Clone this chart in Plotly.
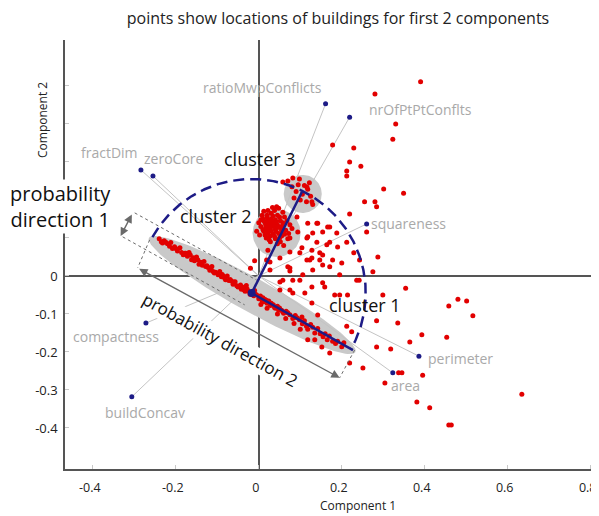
import numpy as np
import plotly.graph_objects as go

# ---------------- axes ----------------
X_RANGE = [-0.467, 0.820]
Y_RANGE = [-0.508, 0.621]
X_TICKS = [-0.4, -0.2, 0, 0.2, 0.4, 0.6, 0.8]
X_TICKTEXT = ["-0.4", "-0.2", "0", "0.2", "0.4", "0.6", "0.8"]
Y_TICKS = [-0.4, -0.3, -0.2, -0.1, 0, 0.1, 0.2, 0.3, 0.4, 0.5]
Y_TICKTEXT = ["-0.4", "-0.3", "-0.2", "-0.1", "0", "", "", "", "", ""]

# ---------------- building scores (component 1, component 2) ----------------
band_x = [-0.240, -0.235, -0.228, -0.220, -0.215, -0.212, -0.200, -0.196, -0.190, -0.186,
          -0.178, -0.172, -0.168, -0.165, -0.158, -0.155, -0.150, -0.147, -0.140, -0.136,
          -0.132, -0.128, -0.122, -0.118, -0.113, -0.110, -0.104, -0.098, -0.094, -0.090,
          -0.085, -0.080, -0.076, -0.072, -0.066, -0.062, -0.057, -0.053, -0.046, -0.042,
          -0.037, -0.033, -0.030, -0.025, -0.021, -0.016, -0.012, -0.010, -0.005, 0.000,
          0.004, 0.008, 0.010, 0.015, 0.020, 0.024, 0.028, 0.035, 0.040, 0.045,
          0.048, 0.055, 0.060, 0.066, 0.075, 0.082, 0.088, 0.098, 0.105, 0.110,
          0.118, 0.125, 0.135, 0.142, 0.155, 0.165, 0.170, 0.178, 0.185, 0.200, 0.205,
          -0.232, -0.224, -0.208, -0.203, -0.182, -0.176, -0.162, -0.152, -0.144, -0.125,
          -0.116, -0.107, -0.088, -0.082, -0.069, -0.060, -0.050, -0.044, -0.035, -0.028,
          -0.018, -0.008, 0.002, 0.012, 0.018, 0.030, 0.038, 0.050, 0.058, 0.070,
          0.092, 0.115, 0.130, 0.148, 0.160, 0.190, 0.020, 0.045, 0.065, 0.085,
          0.005, 0.100]
band_y = [0.098, 0.090, 0.093, 0.085, 0.078, 0.088, 0.072, 0.066, 0.074, 0.062,
          0.060, 0.052, 0.062, 0.055, 0.048, 0.040, 0.050, 0.043, 0.036, 0.028,
          0.038, 0.025, 0.022, 0.015, 0.025, 0.012, 0.010, 0.003, 0.012, -0.002,
          -0.001, -0.010, 0.000, -0.012, -0.013, -0.022, -0.015, -0.026, -0.027, -0.035,
          -0.030, -0.040, -0.025, -0.040, -0.048, -0.042, -0.052, -0.038, -0.050, -0.060,
          -0.053, -0.065, -0.057, -0.062, -0.072, -0.066, -0.078, -0.076, -0.085, -0.080,
          -0.090, -0.090, -0.098, -0.093, -0.102, -0.112, -0.104, -0.115, -0.126, -0.118,
          -0.140, -0.128, -0.150, -0.138, -0.160, -0.168, -0.158, -0.172, -0.178, -0.186, -0.176,
          0.087, 0.089, 0.072, 0.077, 0.056, 0.060, 0.043, 0.045, 0.031, 0.027,
          0.020, 0.008, 0.004, -0.006, -0.009, -0.016, -0.029, -0.024, -0.037, -0.034,
          -0.046, -0.048, -0.055, -0.068, -0.064, -0.072, -0.083, -0.084, -0.095, -0.097,
          -0.110, -0.132, -0.135, -0.152, -0.152, -0.172, -0.085, -0.100, -0.112, -0.125,
          -0.075, -0.140]

blob_x = [0.010, 0.020, 0.030, 0.040, 0.015, 0.025, 0.035, 0.045, 0.005, 0.018,
          0.028, 0.040, 0.050, 0.012, 0.022, 0.035, 0.048, 0.000, 0.058, 0.030,
          0.045, 0.008, 0.018, 0.040, 0.055, 0.065, 0.062, -0.005, 0.028, 0.052,
          0.070, 0.075, 0.038, 0.022, -0.010, -0.020,
          0.012, 0.022, 0.032, 0.042, 0.052, 0.017, 0.027, 0.037, 0.047, 0.057,
          0.010, 0.020, 0.030, 0.042, 0.055, 0.015, 0.027, 0.038, 0.050, 0.062,
          0.020, 0.034, 0.050, 0.005, 0.068, 0.025, 0.045, 0.060, 0.033, 0.012,
          0.002, 0.072, 0.080, 0.058, 0.048]
blob_y = [0.150, 0.155, 0.150, 0.148, 0.140, 0.138, 0.140, 0.135, 0.130, 0.128,
          0.125, 0.122, 0.128, 0.118, 0.112, 0.110, 0.112, 0.140, 0.140, 0.165,
          0.160, 0.160, 0.100, 0.098, 0.105, 0.120, 0.155, 0.118, 0.090, 0.090,
          0.098, 0.135, 0.172, 0.172, 0.040, 0.020,
          0.145, 0.148, 0.143, 0.142, 0.145, 0.133, 0.132, 0.130, 0.128, 0.132,
          0.122, 0.120, 0.118, 0.117, 0.120, 0.108, 0.105, 0.104, 0.100, 0.110,
          0.160, 0.158, 0.155, 0.148, 0.145, 0.095, 0.085, 0.080, 0.180, 0.170,
          0.108, 0.112, 0.125, 0.168, 0.178]

top_x = [0.080, 0.095, 0.110, 0.118, 0.090, 0.105, 0.125, 0.100, 0.085, 0.115,
         0.130, 0.070, 0.098, 0.122, 0.058, 0.043]
top_y = [0.235, 0.240, 0.238, 0.228, 0.222, 0.215, 0.210, 0.200, 0.205, 0.195,
         0.188, 0.250, 0.255, 0.245, 0.247, 0.182]

spread_x = [0.118, 0.142, 0.171, 0.154, 0.130, 0.116, 0.140, 0.164, 0.190, 0.104,
            0.128, 0.075, 0.051, 0.116, 0.147, 0.171, 0.070, 0.130, 0.106, 0.082,
            0.058, 0.159, 0.128, 0.111, 0.195, 0.082, 0.051, 0.027, 0.019, 0.022,
            0.075, 0.094, 0.390, 0.280, 0.330, 0.323, 0.178, 0.229, 0.219, 0.246,
            0.212, 0.212, 0.301, 0.349, 0.255, 0.280, 0.284, 0.219, 0.212, 0.260,
            0.287, 0.275, 0.229, 0.200, 0.082, 0.116, 0.128, 0.092, 0.140, 0.166,
            0.188, 0.118, 0.171, 0.099, 0.147, 0.123, 0.154, 0.075, 0.243, 0.178]
spread_y = [0.139, 0.139, 0.129, 0.116, 0.113, 0.100, 0.089, 0.082, 0.076, 0.074,
            0.068, 0.063, 0.047, 0.042, 0.042, 0.024, 0.024, 0.016, 0.003, -0.011,
            -0.011, -0.029, -0.029, -0.045, -0.050, -0.045, -0.037, 0.016, 0.042, 0.068,
            0.100, 0.116, 0.511, 0.479, 0.400, 0.360, 0.345, 0.337, 0.300, 0.289,
            0.276, 0.263, 0.229, 0.218, 0.195, 0.195, 0.182, 0.163, 0.089, 0.116,
            0.050, 0.011, 0.061, 0.034, 0.258, 0.234, 0.195, 0.155, 0.139, 0.129,
            0.113, 0.103, 0.089, 0.061, 0.061, 0.042, 0.029, 0.021, 0.042, 0.042]

lower_x = [0.354, 0.299, 0.284, 0.335, 0.458, 0.480, 0.501, 0.516, 0.393, 0.364,
           0.453, 0.284, 0.318, 0.395, 0.337, 0.345, 0.304, 0.381, 0.412, 0.458,
           0.464, 0.634, 0.251, 0.219, 0.214, 0.183, 0.212, 0.224, 0.236, 0.242,
           0.027, 0.075, 0.128, 0.154, 0.099, 0.051, 0.154, 0.195, 0.075, 0.128,
           0.142, 0.104, 0.118, 0.135, 0.171, 0.152]
lower_y = [-0.032, -0.050, -0.118, -0.124, -0.079, -0.061, -0.066, -0.105, -0.155, -0.174,
           -0.161, -0.187, -0.192, -0.261, -0.255, -0.255, -0.282, -0.332, -0.347, -0.392,
           -0.392, -0.311, -0.242, -0.229, -0.050, -0.050, -0.132, -0.147, -0.011, -0.011,
           0.037, 0.013, 0.047, 0.055, -0.011, -0.016, -0.018, 0.003, -0.037, -0.071,
           -0.103, -0.108, -0.168, -0.168, -0.203, -0.187]

# ---------------- variable loadings ----------------
var_names = ["ratioMwpConflicts", "nrOfPtPtConflts", "squareness", "fractDim", "zeroCore",
             "compactness", "buildConcav", "perimeter", "area"]
var_x = [0.161, 0.219, 0.260, -0.284, -0.255, -0.272, -0.306, 0.386, 0.323]
var_y = [0.453, 0.418, 0.137, 0.279, 0.263, -0.124, -0.318, -0.211, -0.255]
label_x = [0.010, 0.390, 0.361, -0.359, -0.205, -0.345, -0.275, 0.485, 0.354]
label_y = [0.495, 0.437, 0.137, 0.324, 0.310, -0.158, -0.358, -0.216, -0.289]

# ---------------- cluster structure ----------------
center = (-0.017, -0.045)          # common centre of the probability directions
dir1_end = (0.104, 0.221)          # end of probability direction 1 (cluster 3)
dir2_end = (0.227, -0.195)         # end of probability direction 2 (cluster 1)
clusters = {                       # centre x, centre y, semi-axes (px), angle (deg)
    "c1": (-0.016, -0.050, 118, 17, -29),
    "c2": (0.043, 0.113, 24, 24, 0),
    "c3": (0.106, 0.216, 19, 19, 0),
}
arc_radius_px = 114
arc_angles = (150.6, -29.4)

cluster_text = ["cluster 3", "cluster 2", "cluster 1"]
cluster_text_x = [0.002, -0.104, 0.255]
cluster_text_y = [0.308, 0.158, -0.076]

# ---------------- figure geometry ----------------
OFF = 8                              # page body margin of the browser
W, H = 599 - OFF, 516 - OFF
PL, PT, PW, PH = 65, 40, 534, 429    # plot box in page pixels
ML, MT = PL - OFF, PT - OFF
MR, MB = W - ML - PW, H - MT - PH
sx = PW / (X_RANGE[1] - X_RANGE[0])
sy = PH / (Y_RANGE[1] - Y_RANGE[0])

NAVY = "#1d1b86"
RED = "#e20000"
GREY_FILL = "#c9c9c9"
FONT = "Open Sans, Noto Sans, sans-serif"


def ellipse(cx, cy, a, b, ang):
    t = np.linspace(0, 2 * np.pi, 120)
    r = np.deg2rad(ang)
    px = a * np.cos(t) * np.cos(r) - b * np.sin(t) * np.sin(r)
    py = a * np.cos(t) * np.sin(r) + b * np.sin(t) * np.cos(r)
    return cx + px / sx, cy + py / sy


def paper_x(px):
    return (px - PL) / PW


def paper_y(py):
    return (PT + PH - py) / PH


fig = go.Figure()

for key, (cx, cy, a, b, ang) in clusters.items():
    ex, ey = ellipse(cx, cy, a, b, ang)
    fig.add_trace(go.Scatter(x=ex, y=ey, mode="lines", fill="toself",
                             fillcolor=GREY_FILL, line=dict(width=0),
                             hoverinfo="skip", showlegend=False))

# variable loading lines
for vx, vy in zip(var_x, var_y):
    fig.add_trace(go.Scatter(x=[0, vx], y=[0, vy], mode="lines",
                             line=dict(color="#c4c4c4", width=1),
                             hoverinfo="skip", showlegend=False))

# building points
all_x = band_x + blob_x + top_x + spread_x + lower_x
all_y = band_y + blob_y + top_y + spread_y + lower_y
fig.add_trace(go.Scatter(x=all_x, y=all_y, mode="markers",
                         marker=dict(color=RED, size=5, line=dict(width=0)),
                         showlegend=False))

# dashed construction lines (grey)
dashed = [
    ((-0.263, 0.095), (-0.292, 0.021)),
    ((0.231, -0.195), (0.195, -0.268)),
    ((-0.299, 0.166), (-0.005, -0.011)),
    ((-0.328, 0.103), (-0.034, -0.076)),
]
for (x0, y0), (x1, y1) in dashed:
    fig.add_trace(go.Scatter(x=[x0, x1], y=[y0, y1], mode="lines",
                             line=dict(color="#6a6a6a", width=1, dash="dot"),
                             hoverinfo="skip", showlegend=False))

# probability directions
fig.add_trace(go.Scatter(x=[dir1_end[0], center[0], dir2_end[0]],
                         y=[dir1_end[1], center[1], dir2_end[1]], mode="lines",
                         line=dict(color=NAVY, width=2.5), showlegend=False))
fig.add_trace(go.Scatter(x=[center[0]], y=[center[1]], mode="markers",
                         marker=dict(color=NAVY, size=8), showlegend=False))

# variable loading dots
fig.add_trace(go.Scatter(x=var_x, y=var_y, mode="markers",
                         marker=dict(color=NAVY, size=5), showlegend=False))

# dashed semicircle
t = np.deg2rad(np.linspace(arc_angles[0], arc_angles[1], 200))
fig.add_trace(go.Scatter(x=center[0] + arc_radius_px * np.cos(t) / sx,
                         y=center[1] + arc_radius_px * np.sin(t) / sy,
                         mode="lines", line=dict(color=NAVY, width=2.5, dash="11px,6px"),
                         hoverinfo="skip", showlegend=False))

annotations = []
for name, lx, ly in zip(var_names, label_x, label_y):
    annotations.append(dict(x=lx, y=ly, xref="x", yref="y", text=name, showarrow=False,
                            xanchor="center", yanchor="middle",
                            font=dict(family=FONT, size=14, color="#a9a9a9")))
for txt, tx, ty in zip(cluster_text, cluster_text_x, cluster_text_y):
    annotations.append(dict(x=tx, y=ty, xref="x", yref="y", text=txt, showarrow=False,
                            xanchor="center", yanchor="middle",
                            font=dict(family=FONT, size=18, color="#111")))

# double arrows
arrows = [((-0.292, 0.021), (0.195, -0.268)), ((-0.304, 0.166), (-0.333, 0.105))]
for (x0, y0), (x1, y1) in arrows:
    annotations.append(dict(x=x1, y=y1, ax=x0, ay=y0, xref="x", yref="y", axref="x", ayref="y",
                            text="", showarrow=True, arrowhead=2, arrowside="end+start",
                            arrowsize=1.2, arrowwidth=1.4, arrowcolor="#6a6a6a"))

annotations.append(dict(x=-0.094, y=-0.168, xref="x", yref="y",
                        text="probability direction 2", textangle=29, showarrow=False,
                        xanchor="center", yanchor="middle",
                        bgcolor="white", borderpad=0,
                        font=dict(family=FONT, size=17, color="#111")))
annotations.append(dict(x=paper_x(60), y=paper_y(206), xref="paper", yref="paper",
                        text="probability<br>direction 1", showarrow=False,
                        xanchor="center", yanchor="middle",
                        bgcolor="white", borderpad=0,
                        font=dict(family=FONT, size=20, color="#111")))
annotations.append(dict(x=paper_x(358), y=paper_y(505), xref="paper", yref="paper",
                        text="Component 1", showarrow=False,
                        xanchor="center", yanchor="middle",
                        font=dict(family=FONT, size=12, color="#222")))
annotations.append(dict(x=paper_x(42), y=paper_y(120), xref="paper", yref="paper",
                        text="Component 2", showarrow=False, textangle=-90,
                        xanchor="center", yanchor="middle",
                        font=dict(family=FONT, size=12, color="#222")))

fig.update_layout(
    width=W, height=H, margin=dict(l=ML, r=MR, t=MT, b=MB, autoexpand=False),
    paper_bgcolor="white", plot_bgcolor="white",
    title=dict(text="points show locations of buildings for first 2 components",
               x=(338 - OFF) / W, xanchor="center", y=1 - (18 - OFF) / H, yanchor="middle",
               font=dict(family=FONT, size=16, color="#222")),
    xaxis=dict(range=X_RANGE, tickvals=X_TICKS, ticktext=X_TICKTEXT, showgrid=False,
               zeroline=True, zerolinecolor="#555", zerolinewidth=1.5,
               showline=True, linecolor="#555", linewidth=1.5,
               ticks="inside", ticklen=4, tickcolor="#c8c8c8", ticklabelstandoff=6,
               ticklabelshift=-3, ticklabeloverflow="allow", automargin=False,
               tickfont=dict(family=FONT, size=12.5, color="#222")),
    yaxis=dict(range=Y_RANGE, tickvals=Y_TICKS, ticktext=Y_TICKTEXT, showgrid=False,
               zeroline=True, zerolinecolor="#555", zerolinewidth=1.5,
               showline=True, linecolor="#555", linewidth=1.5,
               ticks="inside", ticklen=4, tickcolor="#c8c8c8", ticklabelstandoff=3,
               automargin=False,
               tickfont=dict(family=FONT, size=13, color="#222")),
    annotations=annotations,
)

fig.write_html("out.html")
